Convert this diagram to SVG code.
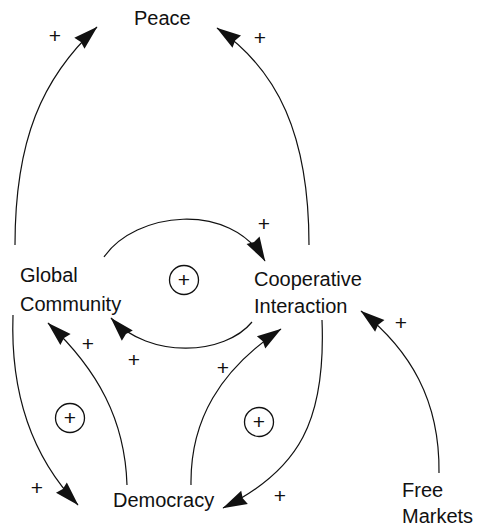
<svg xmlns="http://www.w3.org/2000/svg" width="477" height="529" viewBox="0 0 477 529">
<style>
.lbl{font-family:"Liberation Sans",Arial,sans-serif;font-size:20px;fill:#111}
.pl{font-family:"Liberation Sans",Arial,sans-serif;font-size:21px;fill:#111;text-anchor:middle}
.c{fill:none;stroke:#111;stroke-width:1.2;marker-end:url(#ah)}
.lp{fill:none;stroke:#111;stroke-width:1.3}
</style>
<defs>
<marker id="ah" markerUnits="userSpaceOnUse" markerWidth="28" markerHeight="18" viewBox="-26 -9 28 18" refX="0" refY="0" orient="auto">
<path d="M0.5,0 L-24,-7.5 L-22,0 L-24,7.5 Z" fill="#111"/>
</marker>
</defs>
<rect width="477" height="529" fill="#fff"/>
<g id="peace"><text class="lbl" x="134" y="25">Peace</text></g>
<g id="global-community"><text class="lbl" x="20" y="282">Global</text><text class="lbl" x="20" y="311">Community</text></g>
<g id="cooperative-interaction"><text class="lbl" x="254" y="286">Cooperative</text><text class="lbl" x="254" y="313">Interaction</text></g>
<g id="democracy"><text class="lbl" x="113" y="507">Democracy</text></g>
<g id="free-markets"><text class="lbl" x="402" y="497">Free</text><text class="lbl" x="402" y="523">Markets</text></g>
<g id="connectors">
<path class="c" d="M15,245 C15,140 42,78 97,27"/>
<path class="c" d="M309,245 C309,135 278,70 217,28"/>
<path class="c" d="M104,257 C135,212 230,200 265,261"/>
<path class="c" d="M252,322 C225,355 150,360 111,318"/>
<path class="c" d="M127,485 C125,420 98,370 48,323"/>
<path class="c" d="M13,315 C10,400 35,460 78,505"/>
<path class="c" d="M191,485 C190,420 220,370 281,329"/>
<path class="c" d="M322,320 C326,420 300,470 223,508"/>
<path class="c" d="M439,473 C440,400 410,350 361,311"/>
</g>
<g id="polarities">
<text class="pl" x="55" y="43">+</text>
<text class="pl" x="260" y="45">+</text>
<text class="pl" x="264" y="231">+</text>
<text class="pl" x="88" y="351">+</text>
<text class="pl" x="134" y="367">+</text>
<text class="pl" x="223" y="375">+</text>
<text class="pl" x="37" y="495">+</text>
<text class="pl" x="280" y="503">+</text>
<text class="pl" x="401" y="330">+</text>
</g>
<g id="loops">
<circle class="lp" cx="184" cy="280" r="14.5"/><text class="pl" x="184" y="287">+</text>
<circle class="lp" cx="70" cy="418" r="14.5"/><text class="pl" x="70" y="425">+</text>
<circle class="lp" cx="259" cy="422" r="14.5"/><text class="pl" x="259" y="429">+</text>
</g>
</svg>
